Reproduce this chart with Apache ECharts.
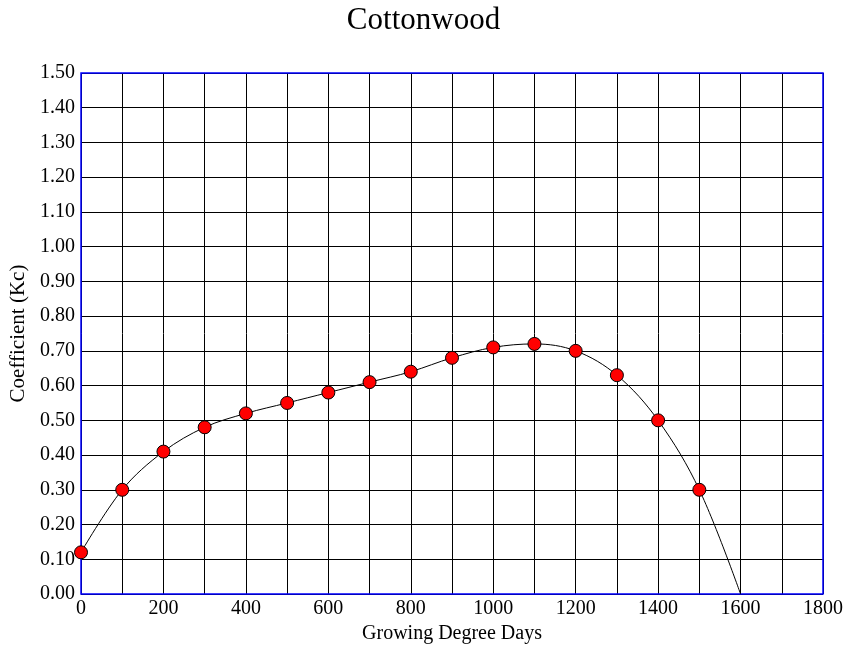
<!DOCTYPE html>
<html>
<head>
<meta charset="utf-8">
<script src="https://cdn.jsdelivr.net/npm/echarts@6/dist/echarts.min.js"></script>
<style>
  html, body { margin: 0; padding: 0; background: #fff; }
  #chart { width: 847px; height: 645px; }
</style>
</head>
<body>
<div id="chart"></div>
<script>
// Crop coefficient observations for cottonwood
const gdd = [0, 100, 200, 300, 400, 500, 600, 700, 800, 900, 1000, 1100, 1200, 1300, 1400, 1500];
const kc = [0.12, 0.30, 0.41, 0.48, 0.52, 0.55, 0.58, 0.61, 0.64, 0.68, 0.71, 0.72, 0.70, 0.63, 0.50, 0.30];

// Fitted curve
const curveX = [0, 100, 200, 300, 400, 500, 600, 700, 800, 900, 1000, 1100, 1200, 1300, 1400, 1500, 1600];
const curveY = [0.12, 0.30, 0.41, 0.48, 0.52, 0.55, 0.58, 0.61, 0.64, 0.68, 0.71, 0.72, 0.70, 0.63, 0.50, 0.30, 0.00];

const font = '"Liberation Serif", "Times New Roman", serif';

const chart = echarts.init(document.getElementById('chart'));
chart.setOption({
  animation: false,
  backgroundColor: '#fff',
  title: {
    text: 'Cottonwood',
    left: 'center',
    top: 0,
    textStyle: { fontFamily: font, fontSize: 31, fontWeight: 'normal', color: '#000' }
  },
  grid: {
    left: 81, top: 73, width: 742, height: 521,
    outerBoundsMode: 'none',
    containLabel: false,
    show: true, z: 5,
    backgroundColor: 'transparent',
    borderColor: '#0000ff', borderWidth: 1.5
  },
  xAxis: {
    type: 'value',
    min: 0, max: 1800, interval: 100,
    name: 'Growing Degree Days',
    nameLocation: 'middle',
    nameGap: 25,
    nameTextStyle: { fontFamily: font, fontSize: 20, color: '#000' },
    axisLine: { show: false },
    axisTick: { show: false },
    axisLabel: {
      fontFamily: font, fontSize: 20, color: '#000', margin: 5,
      formatter: v => (v % 200 === 0 ? String(v) : '')
    },
    splitLine: { show: true, lineStyle: { color: '#000', width: 1 } }
  },
  yAxis: {
    type: 'value',
    min: 0, max: 1.5, interval: 0.1,
    name: 'Coefficient (Kc)',
    nameLocation: 'middle',
    nameGap: 42,
    nameTextStyle: { fontFamily: font, fontSize: 21, color: '#000' },
    axisLine: { show: false },
    axisTick: { show: false },
    axisLabel: {
      fontFamily: font, fontSize: 20, color: '#000', margin: 6,
      formatter: v => v.toFixed(2)
    },
    splitLine: { show: true, lineStyle: { color: '#000', width: 1 } }
  },
  series: [{
    type: 'line',
    data: curveX.map((x, i) => [x, curveY[i]]),
    smooth: 0.35,
    showSymbol: false,
    lineStyle: { color: '#000', width: 1 },
    z: 6
  }, {
    type: 'scatter',
    data: gdd.map((x, i) => [x, kc[i]]),
    symbol: 'circle',
    symbolSize: 13,
    itemStyle: { color: '#ff0000', borderColor: '#000', borderWidth: 1, opacity: 1 },
    z: 7
  }]
});
</script>
</body>
</html>
